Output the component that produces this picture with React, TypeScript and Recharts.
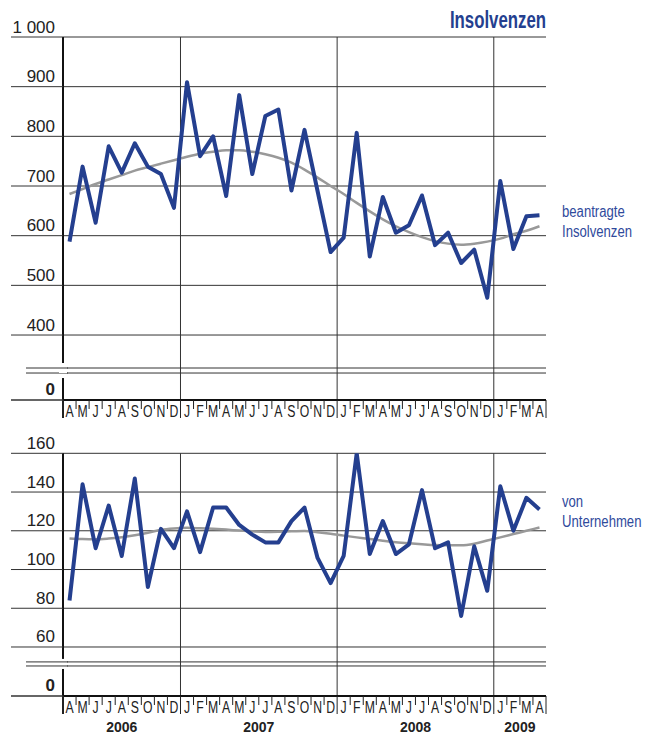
import React from 'react';
import { LineChart, Line, XAxis, YAxis, CartesianGrid } from 'recharts';

// ---------- data ----------
const monthLabels = [
  'A', 'M', 'J', 'J', 'A', 'S', 'O', 'N', 'D',
  'J', 'F', 'M', 'A', 'M', 'J', 'J', 'A', 'S', 'O', 'N', 'D',
  'J', 'F', 'M', 'A', 'M', 'J', 'J', 'A', 'S', 'O', 'N', 'D',
  'J', 'F', 'M', 'A',
];
const yearLabels = ['2006', '2007', '2008', '2009'];
const yearMonthCounts = [9, 12, 12, 4];

const appliedInsolvencies = [
  588, 739, 626, 780, 727, 786, 739, 724, 656,
  909, 760, 800, 680, 883, 724, 841, 854, 691, 813, 690, 567,
  596, 807, 558, 678, 606, 621, 681, 581, 606, 545, 572, 475,
  710, 573, 639, 641,
];
const appliedTrend = [
  684, 694, 704, 713, 722, 731, 738, 745, 752,
  759, 765, 769, 772, 772, 769, 764, 757, 747, 733, 717, 700,
  684, 666, 649, 633, 619, 607, 597, 589, 584, 582, 584, 588,
  594, 603, 610, 619,
];
const companyInsolvencies = [
  84, 144, 111, 133, 107, 147, 91, 121, 111,
  130, 109, 132, 132, 123, 118, 114, 114, 125, 132, 106, 93,
  107, 160, 108, 125, 108, 113, 141, 111, 114, 76, 112, 89,
  143, 120, 137, 131,
];
const companyTrend = [
  116, 115.7, 115.6, 116, 116.7, 117.7, 119, 120.5, 121.2,
  121.5, 121.3, 121, 120.6, 120.1, 119.7, 119.4, 119.5, 119.7, 119.9, 119.3, 118.5,
  117.5, 116.6, 115.8, 114.9, 114.1, 113.5, 113, 112.6, 112.5, 112.5, 113.3, 115,
  116.6, 118.3, 120, 121.7,
];

const topTicks = [400, 500, 600, 700, 800, 900, 1000];
const bottomTicks = [60, 80, 100, 120, 140, 160];
const topTickText: Record<number, string> = { 1000: '1 000' };

// broken axis: bottom of the plot stands for 0
const TOP_MIN = 269.2;
const TOP_BREAK = [323.5, 333.6];
const BOT_MIN = 34.7;
const BOT_BREAK = [50.2, 52.3];

const topData = monthLabels.map((m, i) => ({
  k: String(i), m, v: appliedInsolvencies[i], t: appliedTrend[i],
}));
const bottomData = monthLabels.map((m, i) => ({
  k: String(i), m, v: companyInsolvencies[i], t: companyTrend[i],
}));

// ---------- layout constants ----------
const PLOT_W = 483;
const N = monthLabels.length;
const STEP = PLOT_W / N;
const HALF = STEP / 2;
const yearStarts: number[] = [];
{
  let acc = 0;
  yearMonthCounts.forEach((c) => { yearStarts.push(acc); acc += c; });
}
const FONT = "'Liberation Sans', Arial, sans-serif";
const BLUE = '#243f8f';
const TEXT_BLUE = '#2f4a9c';
const GRID = '#333';

const verticalGen = ({ offset }: any) =>
  yearStarts.slice(1).map((b) => offset.left + (offset.width * b) / N);

const makeMonthTick = (showYears: boolean) => (props: any) => {
  const { x, y, payload } = props;
  const i = Number(payload.value);
  const yearIdx = yearStarts.indexOf(i);
  const isYearStart = yearIdx >= 0;
  const nodes: any[] = [];
  nodes.push(
    <line key="t" x1={x - HALF} x2={x - HALF} y1={y} y2={y + (isYearStart ? 18 : 9)}
      stroke="#222" strokeWidth={i === 0 ? 2 : 1} />
  );
  if (i === N - 1) {
    nodes.push(
      <line key="te" x1={x + HALF} x2={x + HALF} y1={y} y2={y + 18} stroke="#222" strokeWidth={1} />
    );
  }
  nodes.push(
    <text key="l" transform={`translate(${x},${y + 17}) scale(0.72,1)`} textAnchor="middle"
      fontSize={17} fontFamily={FONT} fill="#222">{monthLabels[i]}</text>
  );
  if (showYears && isYearStart) {
    const cx = x - HALF + (yearMonthCounts[yearIdx] * STEP) / 2;
    nodes.push(
      <text key="y" x={cx} y={y + 36} textAnchor="middle" fontSize={14} fontWeight="bold"
        fontFamily={FONT} fill="#222">{yearLabels[yearIdx]}</text>
    );
  }
  return <g>{nodes}</g>;
};

const makeValueTick = (minVal: number, breaks: number[], pad: number, labels: Record<number, string>) =>
  (props: any) => {
    const { x, y, payload } = props;
    const v = payload.value;
    if (breaks.includes(v)) {
      return (
        <g>
          <rect x={x - 4} y={y - pad} width={8} height={pad * 2} fill="#fff" />
          <line x1={x - 37} x2={x + 5} y1={y} y2={y} stroke={GRID} strokeWidth={1} />
        </g>
      );
    }
    const isMin = v === minVal;
    return (
      <g>
        <line x1={x - 52} x2={x} y1={y} y2={y} stroke={GRID} strokeWidth={isMin ? 1.5 : 1} />
        <text x={x - 8} y={y - (isMin ? 5 : 4.5)} textAnchor="end" fontSize={17}
          fontWeight={isMin ? 'bold' : 'normal'} fontFamily={FONT} fill="#222">
          {isMin ? '0' : labels[v] ?? String(v)}
        </text>
      </g>
    );
  };

const TopTick = makeValueTick(TOP_MIN, TOP_BREAK, 5, topTickText);
const BottomTick = makeValueTick(BOT_MIN, BOT_BREAK, 3, {});
const TopMonthTick = makeMonthTick(false);
const BottomMonthTick = makeMonthTick(true);

export default function App() {
  return (
    <div style={{ position: 'absolute', left: 0, top: 0, width: 654, height: 735, background: '#fff' }}>
      <div style={{ position: 'absolute', left: 0, top: 0 }}>
        <LineChart width={654} height={420} data={topData}
          margin={{ top: 37, right: 108, left: 0, bottom: 0 }}>
          <CartesianGrid stroke={GRID} strokeWidth={1} vertical horizontal
            verticalCoordinatesGenerator={verticalGen} />
          <XAxis dataKey="k" type="category" interval={0} height={20}
            padding={{ left: HALF, right: HALF }} tickLine={false} tickSize={0} tickMargin={0}
            axisLine={{ stroke: '#111', strokeWidth: 2 }} tick={<TopMonthTick />} />
          <YAxis type="number" domain={[TOP_MIN, 1000]} allowDataOverflow width={63}
            ticks={[TOP_MIN, ...TOP_BREAK, ...topTicks]} interval={0}
            tickLine={false} tickSize={0} tickMargin={0}
            axisLine={{ stroke: '#111', strokeWidth: 2 }} tick={<TopTick />} />
          <Line type="monotone" dataKey="t" stroke="#999" strokeWidth={2.5} dot={false}
            activeDot={false} isAnimationActive={false} />
          <Line type="linear" dataKey="v" stroke={BLUE} strokeWidth={4} dot={false}
            activeDot={false} strokeLinejoin="round" isAnimationActive={false} />
        </LineChart>
      </div>
      <div style={{ position: 'absolute', left: 0, top: 420 }}>
        <LineChart width={654} height={315} data={bottomData}
          margin={{ top: 33.3, right: 108, left: 0, bottom: 0 }}>
          <CartesianGrid stroke={GRID} strokeWidth={1} vertical horizontal
            verticalCoordinatesGenerator={verticalGen} />
          <XAxis dataKey="k" type="category" interval={0} height={39}
            padding={{ left: HALF, right: HALF }} tickLine={false} tickSize={0} tickMargin={0}
            axisLine={{ stroke: '#111', strokeWidth: 2 }} tick={<BottomMonthTick />} />
          <YAxis type="number" domain={[BOT_MIN, 160]} allowDataOverflow width={63}
            ticks={[BOT_MIN, ...BOT_BREAK, ...bottomTicks]} interval={0}
            tickLine={false} tickSize={0} tickMargin={0}
            axisLine={{ stroke: '#111', strokeWidth: 2 }} tick={<BottomTick />} />
          <Line type="monotone" dataKey="t" stroke="#999" strokeWidth={2.5} dot={false}
            activeDot={false} isAnimationActive={false} />
          <Line type="linear" dataKey="v" stroke={BLUE} strokeWidth={4} dot={false}
            activeDot={false} strokeLinejoin="round" isAnimationActive={false} />
        </LineChart>
      </div>
      <svg width={654} height={735} style={{ position: 'absolute', left: 0, top: 0, pointerEvents: 'none' }}>
        <text transform="translate(546,28.3) scale(0.73,1)" textAnchor="end" fontSize={23}
          fontWeight="bold" fontFamily={FONT} fill={BLUE}>Insolvenzen</text>
        <text transform="translate(562,217) scale(0.82,1)" fontSize={16} fontFamily={FONT} fill={TEXT_BLUE}>beantragte</text>
        <text transform="translate(562,237) scale(0.82,1)" fontSize={16} fontFamily={FONT} fill={TEXT_BLUE}>Insolvenzen</text>
        <text transform="translate(562,507) scale(0.82,1)" fontSize={16} fontFamily={FONT} fill={TEXT_BLUE}>von</text>
        <text transform="translate(562,527) scale(0.82,1)" fontSize={16} fontFamily={FONT} fill={TEXT_BLUE}>Unternehmen</text>
      </svg>
    </div>
  );
}
